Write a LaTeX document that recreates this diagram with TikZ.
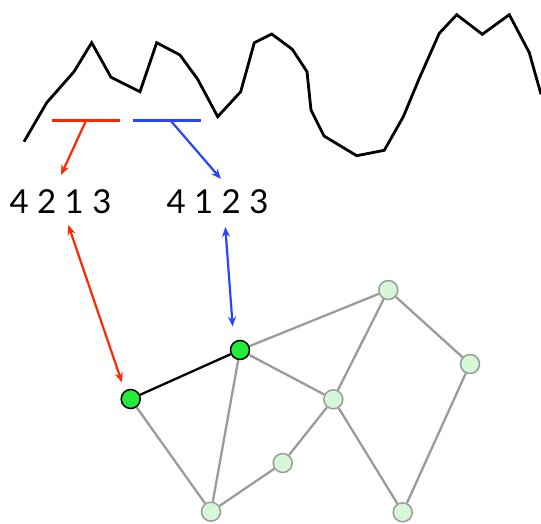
\documentclass[tikz,border=0pt]{standalone}
\usepackage{fontspec}
\setmainfont{Lato}
\usetikzlibrary{arrows.meta,backgrounds}
\definecolor{ordred}{RGB}{255,40,0}
\definecolor{ordblue}{RGB}{40,70,255}
\definecolor{hotgreen}{RGB}{34,235,60}
\definecolor{palegreen}{RGB}{214,248,214}
\definecolor{edgegray}{RGB}{155,155,155}
\tikzset{
  series/.style={line width=2.8pt, line join=miter},
  window/.style={line width=2.8pt},
  tip/.style={Stealth[length=10pt,width=8pt]},
  pick/.style={line width=2.2pt, -{Stealth[length=10pt,width=8pt]}},
  link/.style={line width=2.2pt, {Stealth[length=10pt,width=8pt]}-{Stealth[length=10pt,width=8pt]}},
  perm/.style={font=\fontsize{33}{38}\selectfont, inner sep=0pt},
  vtx/.style={circle, minimum size=19pt, inner sep=0pt, line width=1.5pt, draw=edgegray, fill=palegreen},
  hot/.style={vtx, draw=black, fill=hotgreen},
  edge/.style={line width=2.3pt, edgegray},
}
\begin{document}
\begin{tikzpicture}[x=1pt,y=-1pt]
\useasboundingbox (0,0) rectangle (541,523);
% time series
\draw[series] (24,141.7) -- (46.7,102.7) -- (74,71.7) -- (91.7,42.7) -- (111,77.3)
  -- (140,91.7) -- (156.7,42.7) -- (180,55) -- (197.7,79.3) -- (217.7,116.7)
  -- (240.7,91.7) -- (254.3,42.7) -- (271.7,34) -- (292.3,49.3) -- (307,71.7)
  -- (311,110) -- (324,136) -- (356.7,155.7) -- (384.3,150.3) -- (403.3,116.7)
  -- (419.3,78.3) -- (439.3,33.3) -- (456.7,14.7) -- (482.3,34.3) -- (509.3,14.7)
  -- (529.3,52.7) -- (541,94.3);
% embedding windows
\draw[window, ordred] (51.7,120.7) -- (120,120.7);
\draw[window, ordblue] (132.7,120.7) -- (201,120.7);
\coordinate (wr) at (86,120.7);
\coordinate (wb) at (170.7,120.7);
% ordinal patterns
\node[perm] (p1) at (60.5,201.5) {4 2 1 3};
\node[perm] (p2) at (217.5,201.5) {4 1 2 3};
% graph vertices
\node[vtx] (c) at (388.3,290) {};
\node[vtx] (d) at (333.3,399.3) {};
\node[vtx] (e) at (282.7,463) {};
\node[vtx] (f) at (211,511.7) {};
\node[vtx] (g) at (470,364) {};
\node[vtx] (h) at (402.7,512.3) {};
\node[hot] (a) at (130.7,399) {};
\node[hot] (b) at (240,350) {};
% graph edges, kept behind the vertices
\begin{scope}[on background layer]
\draw[edge] (a) -- (f);
\draw[edge] (b) -- (f);
\draw[edge] (b) -- (c);
\draw[edge] (b) -- (d);
\draw[edge] (c) -- (d);
\draw[edge] (c) -- (g);
\draw[edge] (d) -- (e);
\draw[edge] (e) -- (f);
\draw[edge] (d) -- (h);
\draw[edge] (g) -- (h);
\draw[line width=2.3pt] (a) -- (b);
\end{scope}
% arrows
\coordinate (r1) at (61,175);
\coordinate (b1) at (221,179);
\draw[pick, ordred] (wr) -- (r1);
\draw[pick, ordblue] (wb) -- (b1);
\coordinate (r2) at (68.3,225);
\coordinate (r3) at (122,382.5);
\coordinate (b2) at (225.3,227);
\coordinate (b3) at (232.7,326.5);
\draw[link, ordred] (r2) -- (r3);
\draw[link, ordblue] (b2) -- (b3);
\end{tikzpicture}
\end{document}
